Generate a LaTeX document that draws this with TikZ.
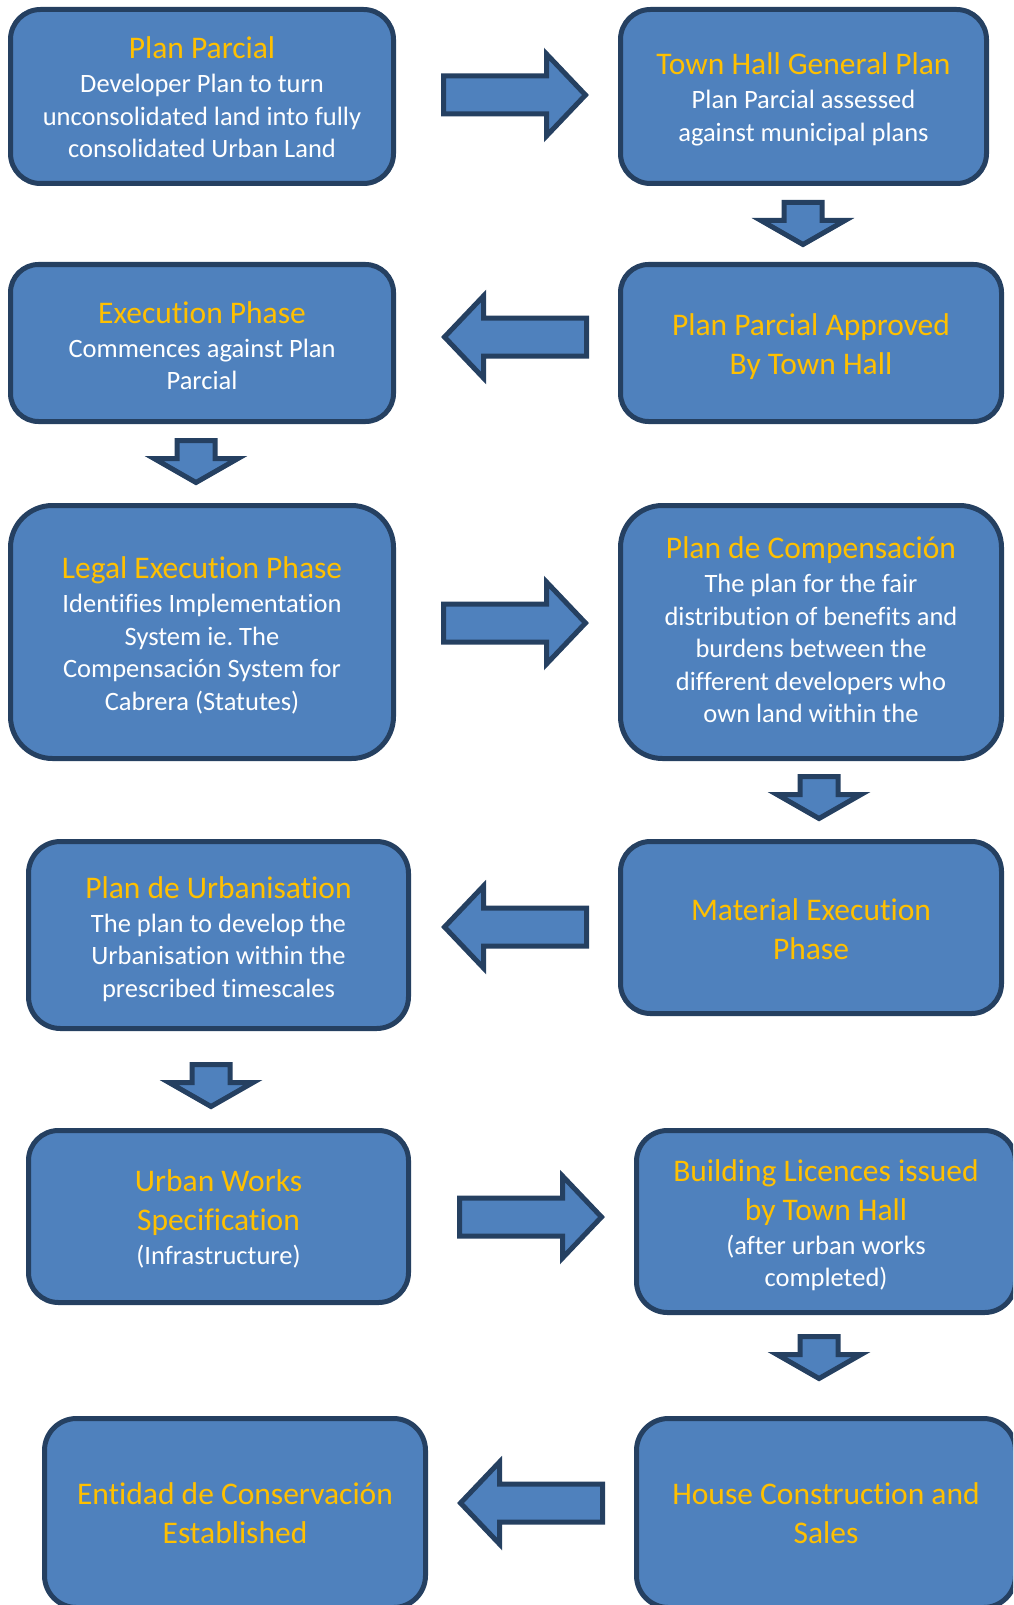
\documentclass[tikz,border=0pt]{standalone}
\usepackage{fontspec}
\setmainfont{Carlito}[Ligatures=NoCommon]
\frenchspacing
\definecolor{boxfill}{HTML}{4F81BD}
\definecolor{boxline}{HTML}{254061}
\definecolor{gold}{HTML}{FFC000}
\newcommand{\ttl}[1]{{\color{gold}\fontsize{31.5}{38.5}\selectfont #1}}
\tikzset{
  x=1pt, y=-1pt,
  box/.style={draw=boxline, fill=boxfill, line width=5pt, inner sep=0pt},
  txt/.style={align=center, text=white, font=\fontsize{26.5}{32.5}\selectfont, inner sep=0pt},
  blockarrow/.style={draw=boxline, fill=boxfill, line width=5pt, line join=miter},
  rarrow/.pic={\draw[blockarrow] (0,-19) -- (103,-19) -- (103,-41) -- (142,0) -- (103,41) -- (103,19) -- (0,19) -- cycle;},
  larrow/.pic={\draw[blockarrow] (0,-19) -- (-103,-19) -- (-103,-41) -- (-142,0) -- (-103,41) -- (-103,19) -- (0,19) -- cycle;},
  darrow/.pic={\draw[blockarrow] (-19,0) -- (19,0) -- (19,18) -- (42,18) -- (0,42) -- (-42,18) -- (-19,18) -- cycle;}
}
\begin{document}
\begin{tikzpicture}
\clip (0,0) rectangle (1013,1605);
\fill[white] (0,0) rectangle (1013,1605);

\node[box, minimum width=383pt, minimum height=174pt, rounded corners=30pt] (b1) at (202,96.5) {};
\node[txt] (t1) at ([yshift=-1pt]b1.center)
  {\ttl{Plan Parcial}\\[1.5pt]Developer Plan to turn\\unconsolidated land into fully\\consolidated Urban Land};
\node[box, minimum width=366pt, minimum height=174pt, rounded corners=30pt] (b2) at (803.5,96.5) {};
\node[txt] (t2) at ([yshift=-3pt]b2.center)
  {\ttl{Town Hall General Plan}\\[1.5pt]Plan Parcial assessed\\against municipal plans};
\node[box, minimum width=383pt, minimum height=157pt, rounded corners=28pt] (b3) at (202,343) {};
\node[txt] (t3) at ([yshift=-2.5pt]b3.center)
  {\ttl{Execution Phase}\\[1.5pt]Commences against Plan\\Parcial};
\node[box, minimum width=381pt, minimum height=157pt, rounded corners=28pt] (b4) at (811,343) {};
\node[txt] (t4) at ([yshift=-4pt]b4.center)
  {\ttl{Plan Parcial Approved}\\[6.5pt]\ttl{By Town Hall}};
\node[box, minimum width=383pt, minimum height=253pt, rounded corners=42pt] (b5) at (202,632) {};
\node[txt] (t5) at ([yshift=-3.5pt]b5.center)
  {\ttl{Legal Execution Phase}\\[1.5pt]Identifies Implementation\\System ie. The\\Compensación System for\\Cabrera (Statutes)};
\node[box, minimum width=381pt, minimum height=253pt, rounded corners=42pt] (b6) at (811,632) {};
\node[txt] (t6) at ([yshift=2pt]b6.center)
  {\ttl{Plan de Compensación}\\[1.5pt]The plan for the fair\\distribution of benefits and\\burdens between the\\different developers who\\own land within the};
\node[box, minimum width=380pt, minimum height=187pt, rounded corners=32pt] (b7) at (218.5,935) {};
\node[txt] (t7) at ([yshift=-4pt]b7.center)
  {\ttl{Plan de Urbanisation}\\[1.5pt]The plan to develop the\\Urbanisation within the\\prescribed timescales};
\node[box, minimum width=381pt, minimum height=172pt, rounded corners=30pt] (b8) at (811,927.5) {};
\node[txt] (t8) at ([yshift=-1.5pt]b8.center)
  {\ttl{Material Execution}\\[6.5pt]\ttl{Phase}};
\node[box, minimum width=380pt, minimum height=172pt, rounded corners=30pt] (b9) at (218.5,1216.5) {};
\node[txt] (t9) at ([yshift=-2.5pt]b9.center)
  {\ttl{Urban Works}\\[6.5pt]\ttl{Specification}\\[1.5pt](Infrastructure)};
\node[box, minimum width=379pt, minimum height=182pt, rounded corners=31pt] (b10) at (826,1221.5) {};
\node[txt] (t10) at ([yshift=-3.5pt]b10.center)
  {\ttl{Building Licences issued}\\[6.5pt]\ttl{by Town Hall}\\[1.5pt](after urban works\\completed)};
\node[box, minimum width=379pt, minimum height=189pt, rounded corners=32pt] (b11) at (826,1513) {};
\node[txt] (t11) at (b11.center)
  {\ttl{House Construction and}\\[6.5pt]\ttl{Sales}};
\node[box, minimum width=381pt, minimum height=189pt, rounded corners=32pt] (b12) at (235,1513) {};
\node[txt] (t12) at (b12.center)
  {\ttl{Entidad de Conservación}\\[6.5pt]\ttl{Established}};

\pic (r1) at (443.5,95) {rarrow};
\pic (d1) at (803,202.5) {darrow};
\pic (l2) at (586.5,337) {larrow};
\pic (d2) at (196,440.5) {darrow};
\pic (r3) at (443.5,623) {rarrow};
\pic (d3) at (819,776.5) {darrow};
\pic (l4) at (586.5,927) {larrow};
\pic (d4) at (211,1064.5) {darrow};
\pic (r5) at (459.5,1217) {rarrow};
\pic (d5) at (819,1336.5) {darrow};
\pic (l6) at (602.5,1503) {larrow};
\end{tikzpicture}
\end{document}
